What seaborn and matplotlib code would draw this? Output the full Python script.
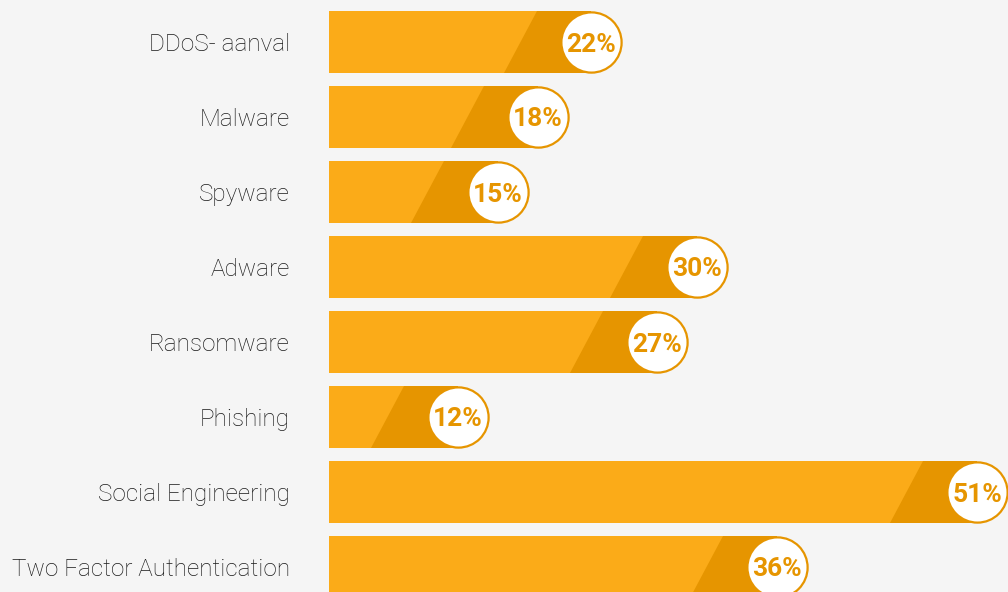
import matplotlib
matplotlib.use("Agg")
import matplotlib.pyplot as plt
import numpy as np
import pandas as pd
import seaborn as sns
from matplotlib.patches import Polygon

categories = [
    "DDoS- aanval",
    "Malware",
    "Spyware",
    "Adware",
    "Ransomware",
    "Phishing",
    "Social Engineering",
    "Two Factor Authentication",
]
values = [22, 18, 15, 30, 27, 12, 51, 36]

LIGHT = "#FBAB18"
DARK = "#E69500"
BG = "#F5F5F5"

W, H, DPI = 1008, 592, 100
BAR_H = 0.83

sns.set_theme(style="white")
plt.rcParams["font.family"] = ["Roboto", "DejaVu Sans"]

df = pd.DataFrame({"category": categories, "value": values})

fig = plt.figure(figsize=(W / DPI, H / DPI), dpi=DPI, facecolor=BG)
# axes placed in pixels: bars start at x=329, rows 75px apart
ax = fig.add_axes([329 / W, -12.5 / H, 679 / W, 600 / H])
ax.set_facecolor(BG)

sns.barplot(data=df, x="value", y="category", orient="h", color=LIGHT,
            width=BAR_H, saturation=1, ax=ax)

ax.set_xlim(0, max(values))
ax.set_ylim(len(categories) - 0.5, -0.5)

# pixel -> data conversion along x
px = max(values) / 679.0
r = 31 * px          # half bar height in x-units
top_off = 85 * px    # dark segment start at top edge
bot_off = 118 * px   # dark segment start at bottom edge

for patch, v in zip(ax.patches, values):
    y0 = patch.get_y()
    y1 = y0 + patch.get_height()
    patch.set_width(v - r)
    patch.set_linewidth(0)
    poly = Polygon([(v - top_off, y0), (v - r, y0), (v - r, y1), (v - bot_off, y1)],
                   closed=True, facecolor=DARK, edgecolor="none", zorder=2)
    ax.add_patch(poly)

centers = np.arange(len(categories))
cx = np.array(values) - r
ax.scatter(cx, centers, s=1880, facecolor="white", edgecolor=DARK,
           linewidth=1.6, zorder=3, clip_on=False)
for x, y, v in zip(cx, centers, values):
    ax.text(x, y, f"{v}%", ha="center", va="center_baseline", fontsize=19,
            fontweight="bold", color=DARK, zorder=4)

ax.set_xlabel("")
ax.set_ylabel("")
ax.set_xticks([])
ax.tick_params(axis="y", length=0, pad=28, labelsize=17.5, labelcolor="#1a1a1a")
for lab in ax.get_yticklabels():
    lab.set_fontweight("light")
sns.despine(ax=ax, left=True, bottom=True, top=True, right=True)

fig.savefig("out.png", dpi=DPI, facecolor=BG)
